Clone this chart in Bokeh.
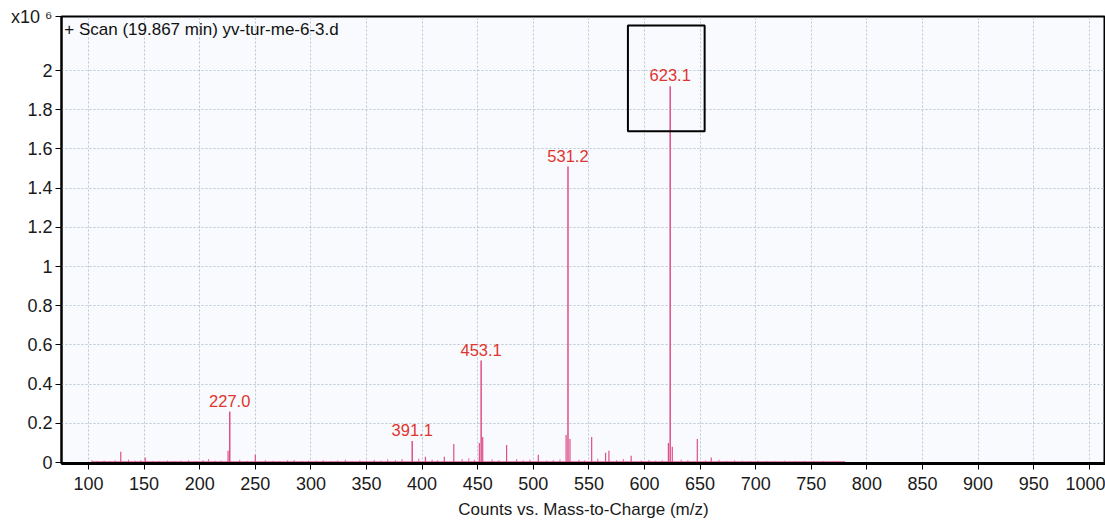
from bokeh.plotting import figure
from bokeh.models import (ColumnDataSource, FixedTicker, BoxAnnotation, Label,
                          Range1d)
from bokeh.core.properties import value
from bokeh.embed import file_html
from bokeh.resources import INLINE

# Labelled peaks (m/z, intensity in units of 1e6 counts)
label_mz = [227.0, 391.1, 453.1, 531.2, 623.1]
label_int = [0.26, 0.11, 0.52, 1.51, 1.92]
label_txt = ["227.0", "391.1", "453.1", "531.2", "623.1"]

# Minor fragment peaks and shoulders
minor_mz = [129.0, 151.0, 225.5, 250.0, 403.0, 420.0, 428.5, 451.5, 454.5,
            476.0, 504.5, 529.5, 533.0, 552.5, 565.0, 568.0, 588.0, 621.5,
            625.0, 647.5, 660.0]
minor_int = [0.055, 0.025, 0.06, 0.04, 0.03, 0.03, 0.095, 0.10, 0.13,
             0.09, 0.04, 0.14, 0.12, 0.13, 0.05, 0.06, 0.035, 0.10,
             0.08, 0.12, 0.025]

# Baseline chemical noise
noise_mz = [103, 108, 114, 119, 124, 136, 142, 147, 158, 164, 171, 177, 183,
            190, 196, 203, 208, 214, 219, 236, 243, 259, 266, 272, 279, 285,
            292, 298, 305, 311, 318, 324, 331, 337, 344, 350, 357, 363, 369,
            376, 382, 397, 409, 414, 436, 442, 447, 463, 469, 485, 491, 497,
            512, 518, 524, 541, 546, 558, 575, 581, 597, 604, 610, 616, 633,
            639, 655, 667, 674, 681, 688, 695, 702, 710, 718, 726, 735, 744,
            752, 761, 770, 780]
noise_int = [0.012, 0.008, 0.010, 0.007, 0.011, 0.015, 0.009, 0.012, 0.006,
             0.008, 0.010, 0.007, 0.009, 0.011, 0.006, 0.012, 0.018, 0.009,
             0.010, 0.014, 0.008, 0.012, 0.009, 0.007, 0.011, 0.013, 0.008,
             0.010, 0.009, 0.012, 0.007, 0.010, 0.014, 0.008, 0.011, 0.009,
             0.013, 0.010, 0.016, 0.012, 0.018, 0.020, 0.015, 0.012, 0.018,
             0.022, 0.014, 0.016, 0.012, 0.018, 0.011, 0.015, 0.010, 0.012,
             0.016, 0.014, 0.011, 0.020, 0.012, 0.018, 0.010, 0.013, 0.009,
             0.011, 0.015, 0.012, 0.010, 0.014, 0.008, 0.011, 0.009, 0.007,
             0.010, 0.008, 0.006, 0.009, 0.007, 0.008, 0.006, 0.007, 0.005,
             0.006]

x_ticks = list(range(100, 1001, 50))
y_ticks = [0, 0.2, 0.4, 0.6, 0.8, 1.0, 1.2, 1.4, 1.6, 1.8, 2.0]
y_tick_labels = ["0", "0.2", "0.4", "0.6", "0.8", "1", "1.2", "1.4", "1.6",
                 "1.8", "2"]
y_unit_text = "x10 \u2076"
scan_title = "+ Scan (19.867 min) yv-tur-me-6-3.d"

FONT = "Liberation Sans"
PEAK = "#de4f8a"
LABEL = "#e0352e"

X0, X1 = 75.7, 1014.6
Y0, Y1 = -0.005, 2.276

p = figure(width=1105, height=523, output_backend="svg", toolbar_location=None,
           x_range=Range1d(X0, X1), y_range=Range1d(Y0, Y1),
           min_border_left=61, min_border_right=0, min_border_top=16,
           min_border_bottom=60)
p.background_fill_color = "#f8fafd"
p.border_fill_color = "white"
p.outline_line_color = "black"
p.outline_line_width = 2

# grid
p.xgrid.ticker = FixedTicker(ticks=x_ticks)
p.ygrid.ticker = FixedTicker(ticks=y_ticks)
for g in (p.xgrid, p.ygrid):
    g.grid_line_color = "#b9c6d6"
    g.grid_line_dash = "2 2"
    g.grid_line_width = 1

# axes; the exponent marker sits as a label at the top of the y axis
p.xaxis.ticker = FixedTicker(ticks=x_ticks)
p.yaxis.ticker = FixedTicker(ticks=y_ticks + [Y1])
overrides = {t: s for t, s in zip(y_ticks, y_tick_labels)}
overrides[Y1] = y_unit_text
p.yaxis.major_label_overrides = overrides
p.xaxis.axis_label = "Counts vs. Mass-to-Charge (m/z)"
p.xaxis.axis_label_text_font = FONT
p.xaxis.axis_label_text_font_style = "normal"
p.xaxis.axis_label_text_font_size = "17px"
p.xaxis.axis_label_text_color = "#1a1a1a"
p.xaxis.axis_label_standoff = 7
for ax in (p.xaxis, p.yaxis):
    ax.major_label_text_font = FONT
    ax.major_label_text_font_size = "18px"
    ax.major_label_text_color = "#1a1a1a"
    ax.axis_line_color = "black"
    ax.major_tick_line_color = "black"
    ax.major_tick_in = 0
    ax.major_tick_out = 6
    ax.minor_tick_line_color = None
p.xaxis.axis_line_width = 3
p.yaxis.axis_line_width = 2
p.xaxis.major_label_standoff = 7
p.yaxis.major_label_standoff = 3

# spectrum sticks
noise = ColumnDataSource(dict(x=noise_mz, top=noise_int, base=[0] * len(noise_mz)))
minor = ColumnDataSource(dict(x=minor_mz, top=minor_int, base=[0] * len(minor_mz)))
major = ColumnDataSource(dict(x=label_mz, top=label_int, base=[0] * len(label_mz),
                              txt=label_txt))
p.segment(x0="x", y0="base", x1="x", y1="top", source=noise,
          line_color=PEAK, line_width=1, line_alpha=0.8)
p.segment(x0="x", y0="base", x1="x", y1="top", source=minor,
          line_color=PEAK, line_width=1.2)
p.segment(x0="x", y0="base", x1="x", y1="top", source=major,
          line_color=PEAK, line_width=1.5)
p.segment(x0=[min(noise_mz)], y0=[0.004], x1=[max(noise_mz)], y1=[0.004],
          line_color=PEAK, line_width=1.5, line_alpha=0.7)

p.text(x="x", y="top", text="txt", source=major, text_color=LABEL,
       text_font=value(FONT), text_font_size="16.5px", text_align="center",
       text_baseline="bottom", y_offset=-5)

# highlight box around the base peak
base_i = label_int.index(max(label_int))
bx = label_mz[base_i]
p.add_layout(BoxAnnotation(left=bx - 38, right=bx + 31, bottom=1.69, top=2.23,
                           fill_color=None, fill_alpha=0, line_color="black",
                           line_alpha=1, line_width=2))

# scan header inside the frame
p.add_layout(Label(x=X0 + 2.5, y=Y1, y_offset=-3, text=scan_title,
                   text_font=FONT, text_font_size="17px", text_color="#111111",
                   text_baseline="top"))

open("out.html", "w").write(file_html(p, INLINE))
